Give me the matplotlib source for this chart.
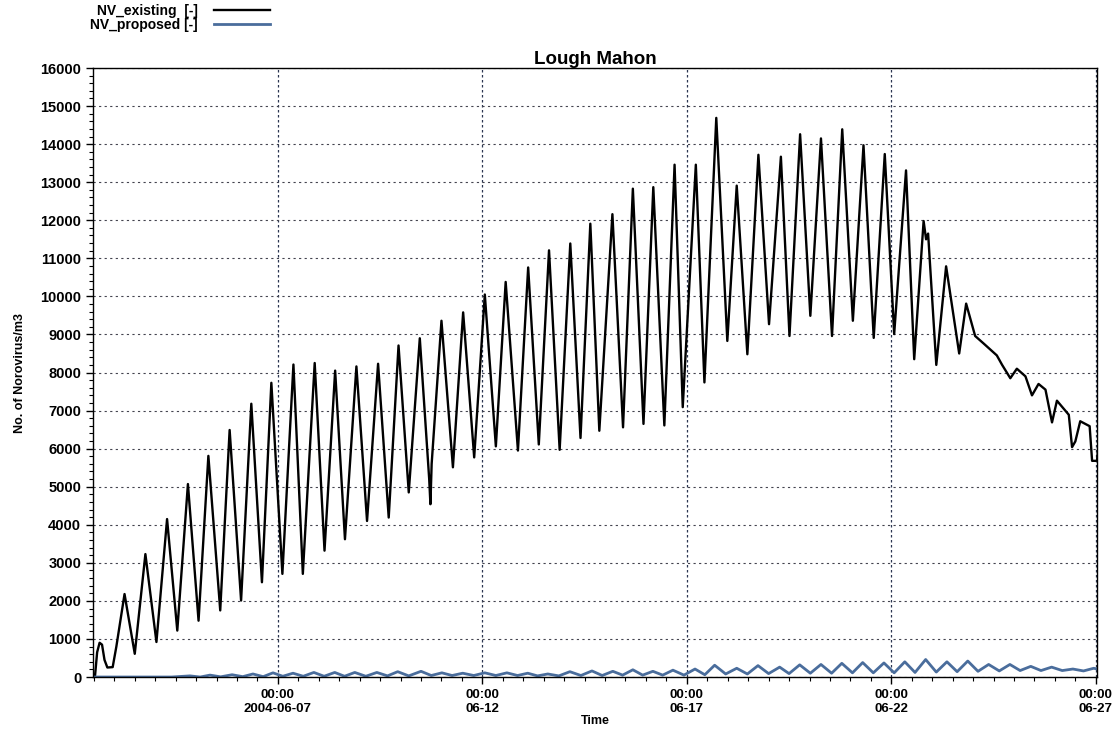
import pandas as pd
import numpy as np
import matplotlib
matplotlib.use("Agg")
import matplotlib.pyplot as plt
import matplotlib.dates as mdates

# --- DATA (times in days relative to 2004-06-07 00:00) ---
BASE = pd.Timestamp("2004-06-07 00:00")

existing_t = [-4.47, -4.42, -4.36, -4.30, -4.24, -4.17, -4.04, -3.95,
              -3.75, -3.50, -3.24, -2.97, -2.71, -2.46, -2.20, -1.94, -1.70, -1.41,
              -1.18, -0.90, -0.65, -0.39, -0.16, 0.11, 0.38, 0.61, 0.90, 1.14,
              1.40, 1.64, 1.92, 2.18, 2.45, 2.71, 2.95, 3.20, 3.47, 3.70, 3.73, 3.76,
              4.00, 4.28, 4.53, 4.80, 5.06, 5.33, 5.57, 5.87, 6.12, 6.38, 6.63, 6.89,
              7.15, 7.40, 7.64, 7.86, 8.18, 8.44, 8.68, 8.94, 9.18, 9.45, 9.70, 9.90,
              10.22, 10.43, 10.72, 10.99, 11.22, 11.48, 11.75, 12.01, 12.30, 12.51,
              12.77, 13.02, 13.28, 13.55, 13.80, 14.06, 14.32, 14.57, 14.84, 15.07,
              15.36, 15.56, 15.79, 15.85, 15.90, 16.10, 16.34, 16.66, 16.83, 17.05,
              17.26, 17.58, 17.71, 17.91, 18.07, 18.28, 18.44, 18.60, 18.77, 18.93,
              19.05, 19.34, 19.42, 19.50, 19.62, 19.85, 19.91, 20.03, 20.08]
existing_v = [50, 650, 900, 850, 450, 250, 260, 800,
              2180, 610, 3230, 920, 4150, 1220, 5070, 1480, 5810, 1750,
              6490, 2010, 7180, 2490, 7730, 2710, 8210, 2710, 8250, 3320,
              8050, 3620, 8160, 4100, 8230, 4190, 8710, 4850, 8900, 5200, 4540, 5600,
              9360, 5510, 9580, 5770, 10050, 6060, 10380, 5950, 10760, 6110, 11210, 5970,
              11390, 6280, 11910, 6470, 12160, 6560, 12830, 6650, 12870, 6610, 13460, 7090,
              13460, 7740, 14690, 8830, 12910, 8480, 13720, 9270, 13670, 8960,
              14260, 9490, 14150, 8960, 14390, 9360, 13970, 8910, 13740, 9010,
              13310, 8350, 11980, 11500, 11650, 8200, 10790, 8500, 9810, 8960,
              8760, 8450, 8200, 7850, 8100, 7900, 7400, 7700, 7550, 6690,
              7260, 6890, 6040, 6190, 6720, 6590, 5680, 5680, 6290]

proposed_t = [-4.47, -2.60, -2.15, -1.90, -1.66, -1.40, -1.12, -0.86, -0.61, -0.36,
              -0.12, 0.12, 0.37, 0.62, 0.88, 1.13, 1.39, 1.63, 1.88, 2.15, 2.42, 2.68,
              2.93, 3.20, 3.50, 3.75, 4.01, 4.26, 4.52, 4.79, 5.06, 5.33, 5.60, 5.86,
              6.11, 6.35, 6.60, 6.87, 7.14, 7.41, 7.68, 7.93, 8.19, 8.43, 8.68, 8.92,
              9.17, 9.41, 9.66, 9.93, 10.20, 10.44, 10.68, 10.95, 11.22, 11.48, 11.74,
              12.00, 12.27, 12.50, 12.76, 13.02, 13.28, 13.54, 13.79, 14.05, 14.30,
              14.56, 14.82, 15.07, 15.33, 15.58, 15.84, 16.10, 16.36, 16.61, 16.87,
              17.12, 17.38, 17.64, 17.90, 18.15, 18.41, 18.66, 18.92, 19.18, 19.44,
              19.70, 19.95, 20.08]
proposed_v = [0, 0, 30, 0, 50, 5, 60, 10, 80, 10,
              110, 20, 100, 20, 120, 20, 120, 20, 120, 20, 120, 30,
              140, 30, 150, 40, 110, 40, 100, 40, 110, 40, 110, 40,
              100, 30, 80, 30, 140, 40, 160, 40, 150, 50, 190, 50,
              150, 50, 180, 50, 210, 60, 310, 80, 230, 80, 300,
              90, 260, 90, 320, 100, 330, 100, 360, 110, 380,
              110, 370, 110, 400, 120, 460, 130, 400, 140, 420,
              150, 330, 160, 330, 170, 280, 170, 260, 170, 210,
              160, 230, 200]

y_ticks = list(range(0, 16001, 1000))
x_tick_days = [0, 5, 10, 15, 20]
x_tick_labels = ["00:00\n2004-06-07", "00:00\n06-12", "00:00\n06-17",
                 "00:00\n06-22", "00:00\n06-27"]

plt.rcParams['font.family'] = ['Liberation Sans', 'DejaVu Sans']
plt.rcParams['font.weight'] = 'bold'


def to_dates(days):
    return BASE + pd.to_timedelta(days, unit="D")


fig = plt.figure(figsize=(11.17, 7.29), dpi=100)
ax = fig.add_axes([0.0833, 0.0713, 0.8988, 0.8354])

ax.plot(to_dates(existing_t), existing_v, color="black", lw=1.7,
        label="NV_existing  [-]")
ax.plot(to_dates(proposed_t), proposed_v, color="#4a6d9c", lw=2.0,
        label="NV_proposed [-]")

ax.set_xlim(to_dates(-4.52), to_dates(20.03))
ax.set_ylim(0, 16000)

# y axis
ax.set_yticks(y_ticks)
ax.set_yticklabels([str(v) for v in y_ticks], fontsize=10.5, fontweight="bold")
ax.set_yticks(np.arange(0, 16001, 200), minor=True)
ax.set_ylabel("No. of Norovirus/m3", fontsize=9, fontweight="bold", labelpad=10)

# x axis
ax.set_xticks(to_dates(x_tick_days))
ax.set_xticklabels(x_tick_labels, fontsize=9.5, fontweight="bold")
ax.xaxis.set_minor_locator(mdates.HourLocator(byhour=[0, 12]))
ax.set_xlabel("Time", fontsize=9, fontweight="bold", labelpad=0)

ax.tick_params(which="major", direction="out", length=5, width=1)
ax.tick_params(which="minor", direction="out", length=3, width=0.8)

# dotted grid
ax.grid(True, axis="y", which="major", color="#44444f", linestyle=(0, (2, 3)), lw=0.8)
ax.grid(True, axis="x", which="major", color="#2a3550", linestyle=(0, (2, 2)), lw=0.9)
ax.set_axisbelow(True)

for s in ax.spines.values():
    s.set_linewidth(1.0)
    s.set_color("black")

ax.set_title("Lough Mahon", fontsize=13.5, fontweight="bold", pad=2)

fig.legend(loc="upper left", bbox_to_anchor=(0.072, 1.008), frameon=False,
           markerfirst=False, handlelength=4.0, labelspacing=0.0,
           handletextpad=1.2, borderpad=0.2,
           prop={"weight": "bold", "size": 10})

fig.savefig("out.png", dpi=100)
